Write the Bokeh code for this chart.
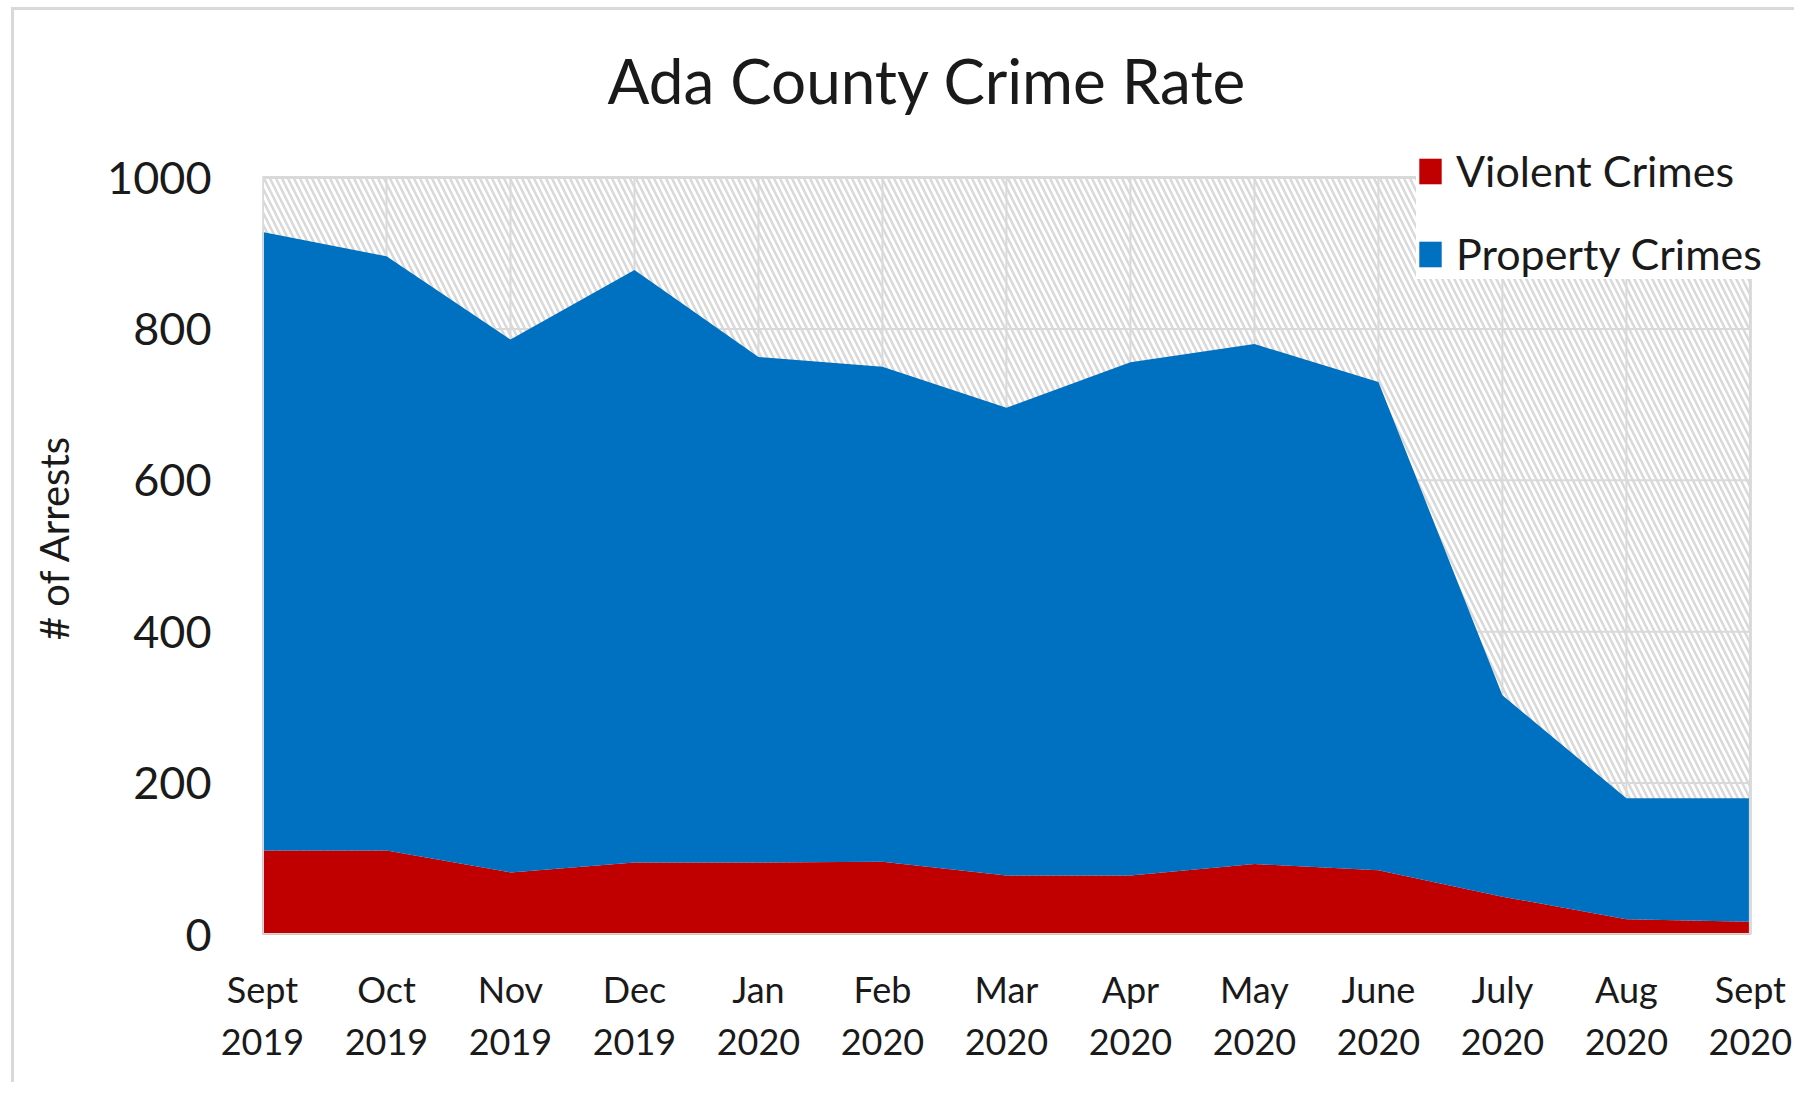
from bokeh.plotting import figure
from bokeh.models import Range1d, FixedTicker, Legend, LegendItem, Title
from bokeh.embed import file_html
from bokeh.resources import INLINE

months = ["Sept\n2019", "Oct\n2019", "Nov\n2019", "Dec\n2019", "Jan\n2020", "Feb\n2020",
          "Mar\n2020", "Apr\n2020", "May\n2020", "June\n2020", "July\n2020", "Aug\n2020",
          "Sept\n2020"]
violent = [111, 111, 82, 95, 95, 96, 78, 78, 93, 85, 50, 20, 17]
property_crimes = [817, 785, 704, 783, 668, 654, 618, 678, 687, 645, 266, 160, 163]
y_ticks = [0, 200, 400, 600, 800, 1000]

FONT = "Lato"
TXT = "#1a1a1a"
GRID = "#d9d9d9"

xs = list(range(len(months)))
total = [v + pc for v, pc in zip(violent, property_crimes)]
y_min, y_max = y_ticks[0], y_ticks[-1]
x_min, x_max = xs[0], xs[-1]

# the frame extends a little above and right of the plot area so that the legend,
# which overlaps the plot-area corner, is not clipped
p = figure(width=1783, height=1075, output_backend="svg", toolbar_location=None,
           x_range=Range1d(x_min, x_max + 0.38), y_range=Range1d(y_min, 1049),
           min_border_left=248, min_border_right=0, min_border_top=130, min_border_bottom=151)
p.title = None
p.add_layout(Title(text="Ada County Crime Rate", align="left", offset=345,
                   text_font=FONT, text_font_size="62px", text_font_style="normal",
                   text_color=TXT, standoff=48), "above")
p.styles = {"border-top": "3px solid #d9d9d9", "border-left": "3px solid #d9d9d9",
            "margin-left": "11px", "margin-top": "7px"}

p.background_fill_color = "white"
p.border_fill_color = "white"
p.outline_line_color = None
p.xgrid.grid_line_color = None
p.ygrid.grid_line_color = None

# hatched plot-area background
p.varea(x=xs, y1=[y_min] * len(xs), y2=[y_max] * len(xs),
        fill_color=None, hatch_pattern="\\", hatch_color=GRID,
        hatch_scale=12, hatch_weight=2.5)

# gridlines limited to the plot area
p.segment(x0=xs, y0=[y_min] * len(xs), x1=xs, y1=[y_max] * len(xs),
          line_color=GRID, line_width=2)
p.segment(x0=[x_min] * len(y_ticks), y0=y_ticks, x1=[x_max] * len(y_ticks), y1=y_ticks,
          line_color=GRID, line_width=2)

r_v = p.varea(x=xs, y1=[0] * len(xs), y2=violent, fill_color="#C00000")
r_p = p.varea(x=xs, y1=violent, y2=total, fill_color="#0070C0")

# plot-area border
p.quad(left=[x_min], right=[x_max], bottom=[y_min], top=[y_max],
       fill_color=None, line_color=GRID, line_width=3)

p.xaxis.ticker = FixedTicker(ticks=xs)
p.xaxis.major_label_overrides = {i: m for i, m in enumerate(months)}
p.yaxis.ticker = FixedTicker(ticks=y_ticks)
for ax in (p.xaxis, p.yaxis):
    ax.axis_line_color = None
    ax.major_tick_line_color = None
    ax.minor_tick_line_color = None
    ax.major_label_text_font = FONT
    ax.major_label_text_color = TXT
p.xaxis.major_label_text_font_size = "36px"
p.xaxis.major_label_standoff = 26
p.yaxis.major_label_text_font_size = "45px"
p.yaxis.major_label_standoff = 45
p.yaxis.axis_label = "# of Arrests"
p.yaxis.axis_label_text_font = FONT
p.yaxis.axis_label_text_font_size = "40px"
p.yaxis.axis_label_text_font_style = "normal"
p.yaxis.axis_label_text_color = TXT
p.yaxis.axis_label_standoff = 26

legend = Legend(items=[LegendItem(label="Violent Crimes", renderers=[r_v]),
                       LegendItem(label="Property Crimes", renderers=[r_p])],
                location=(1154, 655), background_fill_color="white", background_fill_alpha=1,
                border_line_color=None, label_text_font=FONT, label_text_font_size="43px",
                label_text_color=TXT, glyph_width=28, glyph_height=32, label_standoff=12,
                spacing=32, padding=18, margin=0)
p.add_layout(legend, "center")

open("out.html", "w").write(file_html(p, INLINE))
